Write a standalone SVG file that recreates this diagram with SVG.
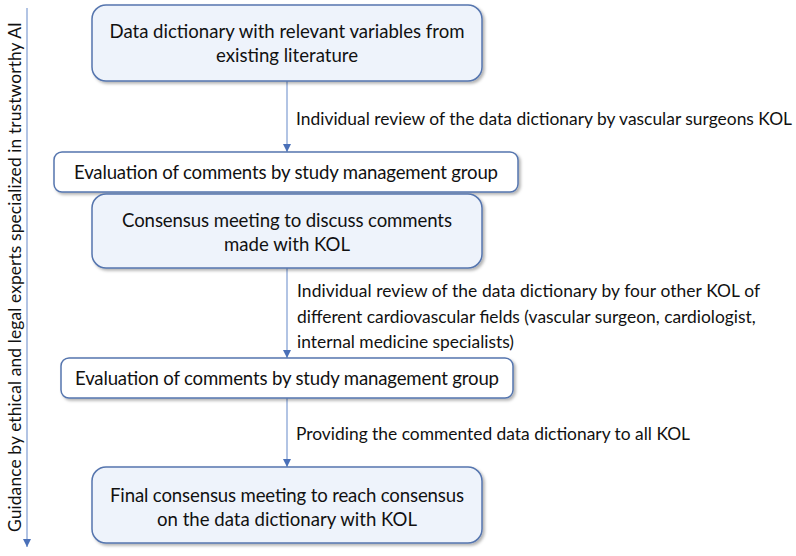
<svg xmlns="http://www.w3.org/2000/svg" width="796" height="556" viewBox="0 0 796 556">
<defs>
<filter id="sh" x="-5%" y="-20%" width="110%" height="150%">
<feDropShadow dx="2" dy="2" stdDeviation="1.5" flood-color="#000" flood-opacity="0.3"/>
</filter>
<marker id="ah" markerWidth="8" markerHeight="8" viewBox="0 0 8 8" refX="8" refY="4" orient="auto" markerUnits="userSpaceOnUse">
<path d="M0,0 L8,4 L0,8 z" fill="#4a70b8"/>
</marker>
</defs>
<style>
.tall{fill:#eef3fb;stroke:#5575ae;stroke-width:1.5}
.flat{fill:#ffffff;stroke:#5575ae;stroke-width:1.5}
.bt{font-family:Lato,"Liberation Sans",sans-serif;font-size:18.6px;fill:#111;text-anchor:middle}
.lt{font-family:Lato,"Liberation Sans",sans-serif;font-size:17.4px;fill:#111}
.conn{stroke:#7f9dd2;stroke-width:1.2;fill:none}
</style>
<rect width="796" height="556" fill="#fff"/>
<g id="connectors">
<line class="conn" x1="287" y1="81" x2="287" y2="152" marker-end="url(#ah)"/>
<line class="conn" x1="287" y1="268" x2="287" y2="358" marker-end="url(#ah)"/>
<line class="conn" x1="287" y1="398" x2="287" y2="467" marker-end="url(#ah)"/>
<line class="conn" x1="27" y1="8" x2="27" y2="547" marker-end="url(#ah)"/>
</g>
<g id="axis-label">
<text class="lt" transform="translate(21,277) rotate(-90)" text-anchor="middle" textLength="510">Guidance by ethical and legal experts specialized in trustworthy AI</text>
</g>
<g id="node1">
<rect class="tall" x="92" y="5" width="390" height="76" rx="14" filter="url(#sh)"/>
<text class="bt" x="287" y="38" textLength="355">Data dictionary with relevant variables from</text>
<text class="bt" x="287" y="62">existing literature</text>
</g>
<g id="label1">
<text class="lt" x="296" y="125" textLength="496">Individual review of the data dictionary by vascular surgeons KOL</text>
</g>
<g id="node2">
<rect class="flat" x="54" y="152" width="464" height="40" rx="8" filter="url(#sh)"/>
<text class="bt" x="286" y="179" textLength="424">Evaluation of comments by study management group</text>
</g>
<g id="node3">
<rect class="tall" x="92" y="194" width="390" height="74" rx="14" filter="url(#sh)"/>
<text class="bt" x="287" y="227" textLength="330">Consensus meeting to discuss comments</text>
<text class="bt" x="287" y="251">made with KOL</text>
</g>
<g id="label2">
<text class="lt" x="297" y="297" textLength="463">Individual review of the data dictionary by four other KOL of</text>
<text class="lt" x="297" y="323">different cardiovascular fields (vascular surgeon, cardiologist,</text>
<text class="lt" x="297" y="348">internal medicine specialists)</text>
</g>
<g id="node4">
<rect class="flat" x="61" y="358" width="452" height="40" rx="8" filter="url(#sh)"/>
<text class="bt" x="287" y="385" textLength="424">Evaluation of comments by study management group</text>
</g>
<g id="label3">
<text class="lt" x="296" y="440" textLength="394">Providing the commented data dictionary to all KOL</text>
</g>
<g id="node5">
<rect class="tall" x="92" y="467" width="390" height="76" rx="14" filter="url(#sh)"/>
<text class="bt" x="287" y="502" textLength="354">Final consensus meeting to reach consensus</text>
<text class="bt" x="287" y="526">on the data dictionary with KOL</text>
</g>
</svg>
